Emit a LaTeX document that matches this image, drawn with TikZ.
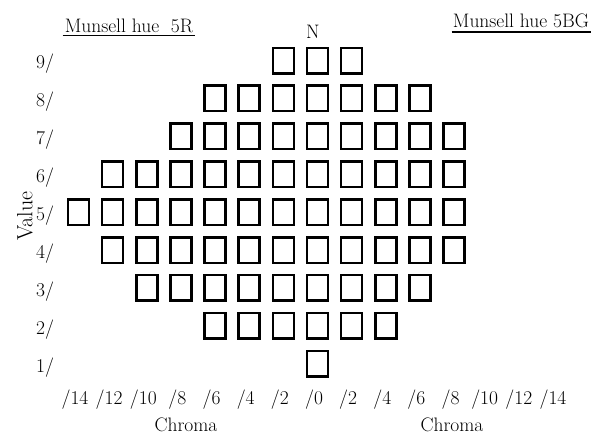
\documentclass[tikz,border=0pt]{standalone}
\begin{document}
\begin{tikzpicture}[x=1pt,y=-1pt,
  chip/.style={draw, line width=2.5pt, minimum width=21pt, minimum height=25.5pt, inner sep=0pt},
  lab/.style={font=\fontsize{19.5}{22}\selectfont, inner sep=0pt},
  uline/.style={line width=1.7pt}]
\useasboundingbox (0,0) rectangle (605,434);
% chips
\foreach \v/\kmin/\kmax in {9/-1/1, 8/-3/3, 7/-4/4, 6/-6/4, 5/-7/4, 4/-6/4, 3/-5/3, 2/-3/2, 1/0/0}{
  \foreach \k in {\kmin,...,\kmax}{
    \node[chip] (c\v k\k) at ({317.5+34.14*\k}, {60.5+37.9*(9-\v)}) {};
  }
  \node[lab] (v\v) at (45, {64+37.9*(9-\v)}) {\v/};
}
% chroma labels
\foreach \k in {-7,...,7}{
  \pgfmathtruncatemacro{\cc}{2*abs(\k)}
  \node[lab] (ch\k) at ({314+34.14*\k}, 400) {/\cc};
}
\node[lab] (chromaL) at (186, 425) {Chroma};
\node[lab] (chromaR) at (452, 425) {Chroma};
\node[lab, font=\fontsize{22}{24}\selectfont, rotate=90] (value) at (25, 216) {Value};
\node[lab] (N) at (313, 32) {N};
\node[lab, anchor=base] (hueL) at (129, 32) {Munsell hue\ \ 5R};
\node[lab, anchor=base] (hueR) at (521, 27) {Munsell hue 5BG};
\draw[uline] ([shift={(-2,3.5)}]hueL.base west) -- ([shift={(2,3.5)}]hueL.base east);
\draw[uline] ([shift={(-1,5)}]hueR.base west) -- ([shift={(2,5)}]hueR.base east);
\end{tikzpicture}
\end{document}
